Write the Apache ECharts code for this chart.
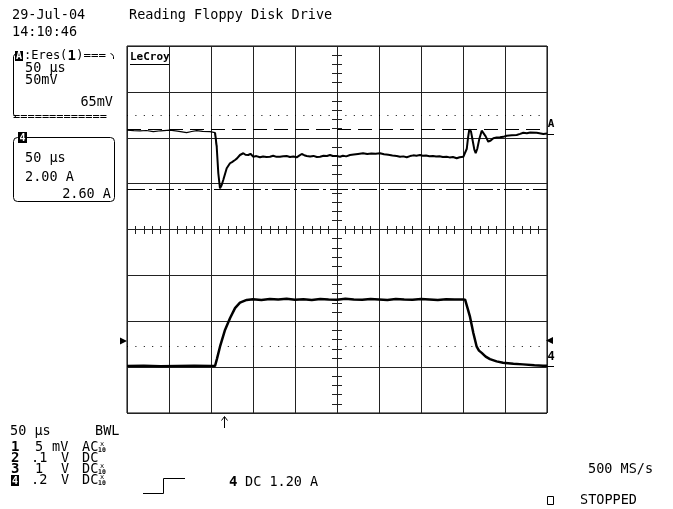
<!DOCTYPE html>
<html><head><meta charset="utf-8">
<script src="https://cdn.jsdelivr.net/npm/echarts@6/dist/echarts.min.js"></script>
<style>html,body{margin:0;padding:0;background:#fff}#c{width:673px;height:509px}</style>
</head><body><div id="c"></div>
<script>
// Channel A (Eres(1)), time in µs, voltage in mV
const timeA = [0,8,15.5,23,31.3,40,51.2,60,71,77,82.9,90,98.8,104.8,106.8,108.7,110.7,112.5,114.6,118.7,122.6,125,128.6,131,134.5,138.5,141,144.4,147,150.4,154,158.3,162,166,170.2,174,178,182.1,186,190.1,194,198,202,205,208,211,213.9,218,222,226,229.8,234,238,241.7,245,249.6,253.6,257,261,265.5,270,275,281,286,291,296,301.2,306,311,316,321.1,325,329,333,337,341,344.5,348.8,352,356,360,364.3,368,372,376,380.6,384,388,392.5,396,400.4,402.4,404.5,406,407.5,409.5,411.5,413.5,415.1,417,419.5,422.3,424.5,427,430.1,433,436.1,440,444,448,452,458,463.9,468,471.8,476,480,487.7,491,495.6,500];
const voltsA = [8.4,7.8,7.4,7.9,6.6,7.6,8.4,7.2,5.5,6.8,7.7,6.9,6.6,5.5,-9.8,-38.7,-55.1,-52,-46,-33.3,-27.8,-26.5,-24.2,-22.5,-18.8,-16.9,-18.5,-18.8,-17.5,-20.7,-20.0,-21.3,-20.4,-21.0,-20.7,-19.6,-20.8,-20.7,-20.1,-19.9,-20.9,-20.4,-21.3,-19.5,-17.7,-19.0,-19.9,-20.5,-19.8,-21.0,-20.7,-19.6,-19.9,-18.8,-19.9,-19.9,-20.7,-19.6,-20.3,-18.8,-18.2,-17.6,-16.9,-17.8,-17.2,-17.5,-16.9,-18.0,-18.6,-19.4,-19.9,-20.6,-20.3,-21.3,-20.0,-19.2,-19.5,-18.8,-19.6,-19.3,-20.1,-19.9,-20.5,-20.1,-21.0,-20.7,-21.4,-21.0,-22.4,-21.2,-20.7,-20.7,-12,0,9.2,7,-3,-13,-16.9,-12,-1,7.7,6.5,1.5,-4.3,-3.0,-0.6,0.2,0.5,1.0,2.2,2.6,3,4.2,5.5,5.0,5.8,5.5,5.0,4.1,4.6];
// Channel 4 (current), time in µs, current in A
const timeI = [0,20,40,60,80,100,104.8,107,110.7,116.7,122.6,128.6,134.5,142.5,150,160,170,180,190,200,210,220,230,240,250,260,270,280,290,300,310,320,330,340,350,360,370,380,390,400,402.5,404.4,408.3,412.3,416.3,419,422.3,427,432.1,440,447.6,460,471.4,485,495.2,500];
const ampsI = [0.05,0.06,0.04,0.05,0.06,0.05,0.05,0.35,0.89,1.62,2.13,2.57,2.81,2.93,2.96,2.93,2.97,2.95,2.98,2.94,2.96,2.93,2.97,2.95,2.94,2.98,2.95,2.94,2.97,2.95,2.93,2.97,2.95,2.94,2.97,2.95,2.93,2.96,2.95,2.95,2.94,2.9,2.2,1.49,0.89,0.72,0.62,0.46,0.35,0.25,0.19,0.15,0.12,0.08,0.06,0.06];
// Reference levels
const dottedA = 24.8, dashedA = 9.0, dashDotA = -55.9;   // mV
const dottedI = 0.93;                                     // A
// Axes
const timeMin = 0, timeMax = 500, timeDiv = 50;
const aMin = -300, aMax = 100, aDiv = 50;
const iMin = -2, iMax = 14, iDiv = 2;
const stepTime = 105.8; // time of first edge (thin before, thick after)

const FONT = '"DejaVu Sans Mono", monospace';
function txt(x, y, s, o) {
  o = o || {};
  const al = o.align || 'left';
  return {type:'text', x:x, y:y, silent:true, z:10, style:{text:s, font:(o.bold?'bold ':'') + (o.size||13.5) + 'px ' + (o.family||FONT), fill:o.fill||'#000', align:al, textAlign:al, verticalAlign:'middle', textVerticalAlign:'middle'}};
}
function pl(points, w) { return {type:'polyline', silent:true, z:10, shape:{points:points}, style:{stroke:'#000', lineWidth:w||1, fill:null}}; }
function rect(x,y,w,h,o){o=o||{};return {type:'rect', silent:true, z:o.z||9, shape:{x:x,y:y,width:w,height:h,r:o.r||0}, style:{stroke:o.stroke||null, fill:o.fill||null, lineWidth:1}};}
function poly(points){return {type:'polygon', silent:true, z:10, shape:{points:points}, style:{fill:'#000'}};}
function inv(x,y,w,h,s){return [rect(x,y,w,h,{fill:'#000',z:11}), {type:'text',x:x+w/2,y:y+h/2+0.5,silent:true,z:12,style:{text:s,font:'bold 10px '+FONT,fill:'#fff',align:'center',textAlign:'center',verticalAlign:'middle',textVerticalAlign:'middle'}}];}

const g = [];
// header
g.push(txt(12,15,'29-Jul-04'));
g.push(txt(12,32,'14:10:46'));
g.push(txt(129,15,'Reading Floppy Disk Drive'));
// Box A
g.push(...inv(15,51,8,10,'A'));
g.push(txt(24,56,':Eres(',{size:12}));
g.push(txt(67.5,56,'1',{size:14,bold:true}));
g.push(txt(76,56,')===',{size:12.5}));
g.push(pl([[110.5,53.5],[112.5,54.5],[113.5,56.5],[113.5,59]]));
g.push(pl([[16,53.5],[14.5,54.5],[13.5,56.5],[13.5,114],[14.5,116],[16,117]]));
g.push(txt(25,68,'50 µs'));
g.push(txt(25,80,'50mV'));
g.push(txt(113,102.5,'65mV',{align:'right'}));
g.push(txt(13,117,'=============',{size:12}));
// Box 4
g.push(rect(13.5,137.5,101,64,{stroke:'#000',r:4}));
g.push(...inv(18,132,9,11,'4'));
g.push(txt(25,158,'50 µs'));
g.push(txt(25,177,'2.00 A'));
g.push(txt(111,194,'2.60 A',{align:'right'}));
// LeCroy
g.push(txt(130,57,'LeCroy',{bold:true,size:11}));
g.push(pl([[130,64.5],[169,64.5]]));
// right markers
g.push(txt(551,124,'A',{bold:true,size:11,align:'center'}));
g.push(pl([[547,134.5],[554,134.5]]));
g.push(poly([[546,340.5],[553,337],[553,344]]));
g.push(txt(551,357,'4',{bold:true,size:12,align:'center'}));
g.push(pl([[547,366.5],[554,366.5]]));
// left marker
g.push(poly([[127,341],[120,337.5],[120,344.5]]));
// trigger arrow
g.push(pl([[224.5,417],[224.5,428]]));
g.push(pl([[221.5,420.5],[224.5,416.5],[227.5,420.5]]));
// bottom text
g.push(txt(10,431,'50 µs'));
g.push(txt(95,431,'BWL'));
const rowsY = [447.5,458.5,469.5,480.5];
const rowCh = ['1','2','3','4'];
const rowVal = [['5',35],['.1',31],['1',35],['.2',31]];
const rowUnit = ['mV','V','V','V'];
const rowCpl = ['AC','DC','DC','DC'];
const rowX10 = [true,false,true,true];
for (let i=0;i<4;i++){
  const y = rowsY[i];
  if (i<3) g.push(txt(11,y,rowCh[i],{bold:true,size:14}));
  else g.push(...inv(11,y-5.5,8,11,rowCh[i]));
  g.push(txt(rowVal[i][1],y,rowVal[i][0]));
  g.push(txt(rowUnit[i]==='mV'?52:61,y,rowUnit[i]));
  g.push(txt(82,y,rowCpl[i]));
  if (rowX10[i]) { g.push(txt(102,y-3,'x',{size:7,align:'center'})); g.push(txt(102,y+3,'10',{size:6.5,bold:true,align:'center'})); }
}
g.push(pl([[143,493.5],[163.5,493.5],[163.5,478.5],[185,478.5]]));
g.push(txt(229,482,'4',{bold:true,size:14}));
g.push(txt(245,482,'DC 1.20 A'));
g.push(txt(588,469,'500 MS/s'));
g.push(rect(547.5,496.5,6,8,{stroke:'#000'}));
g.push(txt(580,500,'STOPPED'));

const gridC = '#222';
const ptsA = timeA.map((t,i)=>[t,voltsA[i]]);
const chart = echarts.init(document.getElementById('c'), null, {renderer:'canvas'});
chart.setOption({
  animation:false,
  backgroundColor:'#fff',
  grid:{left:127, top:46, width:420, height:367, show:true, borderColor:'#000', borderWidth:1, backgroundColor:'transparent'},
  xAxis:[
    {type:'value', min:timeMin, max:timeMax, interval:timeDiv, axisLabel:{show:false}, axisTick:{show:false}, axisLine:{show:false}, splitLine:{show:true, lineStyle:{color:gridC, width:1}}},
    {type:'value', position:'top', offset:-180, min:timeMin, max:timeMax, interval:timeDiv/5, axisLabel:{show:false}, axisLine:{show:false, onZero:false}, axisTick:{show:true, inside:true, length:8, lineStyle:{color:gridC}}, splitLine:{show:false}}
  ],
  yAxis:[
    {type:'value', min:aMin, max:aMax, interval:aDiv, axisLabel:{show:false}, axisTick:{show:false}, axisLine:{show:false}, splitLine:{show:true, lineStyle:{color:gridC, width:1}}},
    {type:'value', min:iMin, max:iMax, interval:iDiv, show:false, splitLine:{show:false}},
    {type:'value', position:'left', offset:-205, min:0, max:40, interval:1, axisLabel:{show:false}, axisLine:{show:false, onZero:false}, axisTick:{show:true, inside:true, length:10, lineStyle:{color:gridC}}, splitLine:{show:false}}
  ],
  series:[
    {type:'line', xAxisIndex:0, yAxisIndex:0, data:ptsA.filter(p=>p[0]<=stepTime+1), showSymbol:false, lineStyle:{color:'#000', width:1.2}, z:5,
     markLine:{silent:true, symbol:'none', label:{show:false}, animation:false,
       data:[
         {yAxis:dottedA, lineStyle:{color:'#000', width:1, type:[1,7.4]}},
         {yAxis:dashedA, lineStyle:{color:'#000', width:1, type:[14,7]}},
         {yAxis:dashDotA, lineStyle:{color:'#000', width:1, type:[18,4,3,4]}}
       ]}},
    {type:'line', xAxisIndex:0, yAxisIndex:0, data:ptsA.filter(p=>p[0]>=stepTime-1), showSymbol:false, lineStyle:{color:'#000', width:2}, z:5},
    {type:'line', xAxisIndex:0, yAxisIndex:1, data:timeI.map((t,i)=>[t,ampsI[i]]), showSymbol:false, lineStyle:{color:'#000', width:2.5}, z:5,
     markLine:{silent:true, symbol:'none', label:{show:false}, animation:false,
       data:[{yAxis:dottedI, lineStyle:{color:'#000', width:1, type:[1,7.4]}}]}}
  ],
  graphic:g
});
</script></body></html>
